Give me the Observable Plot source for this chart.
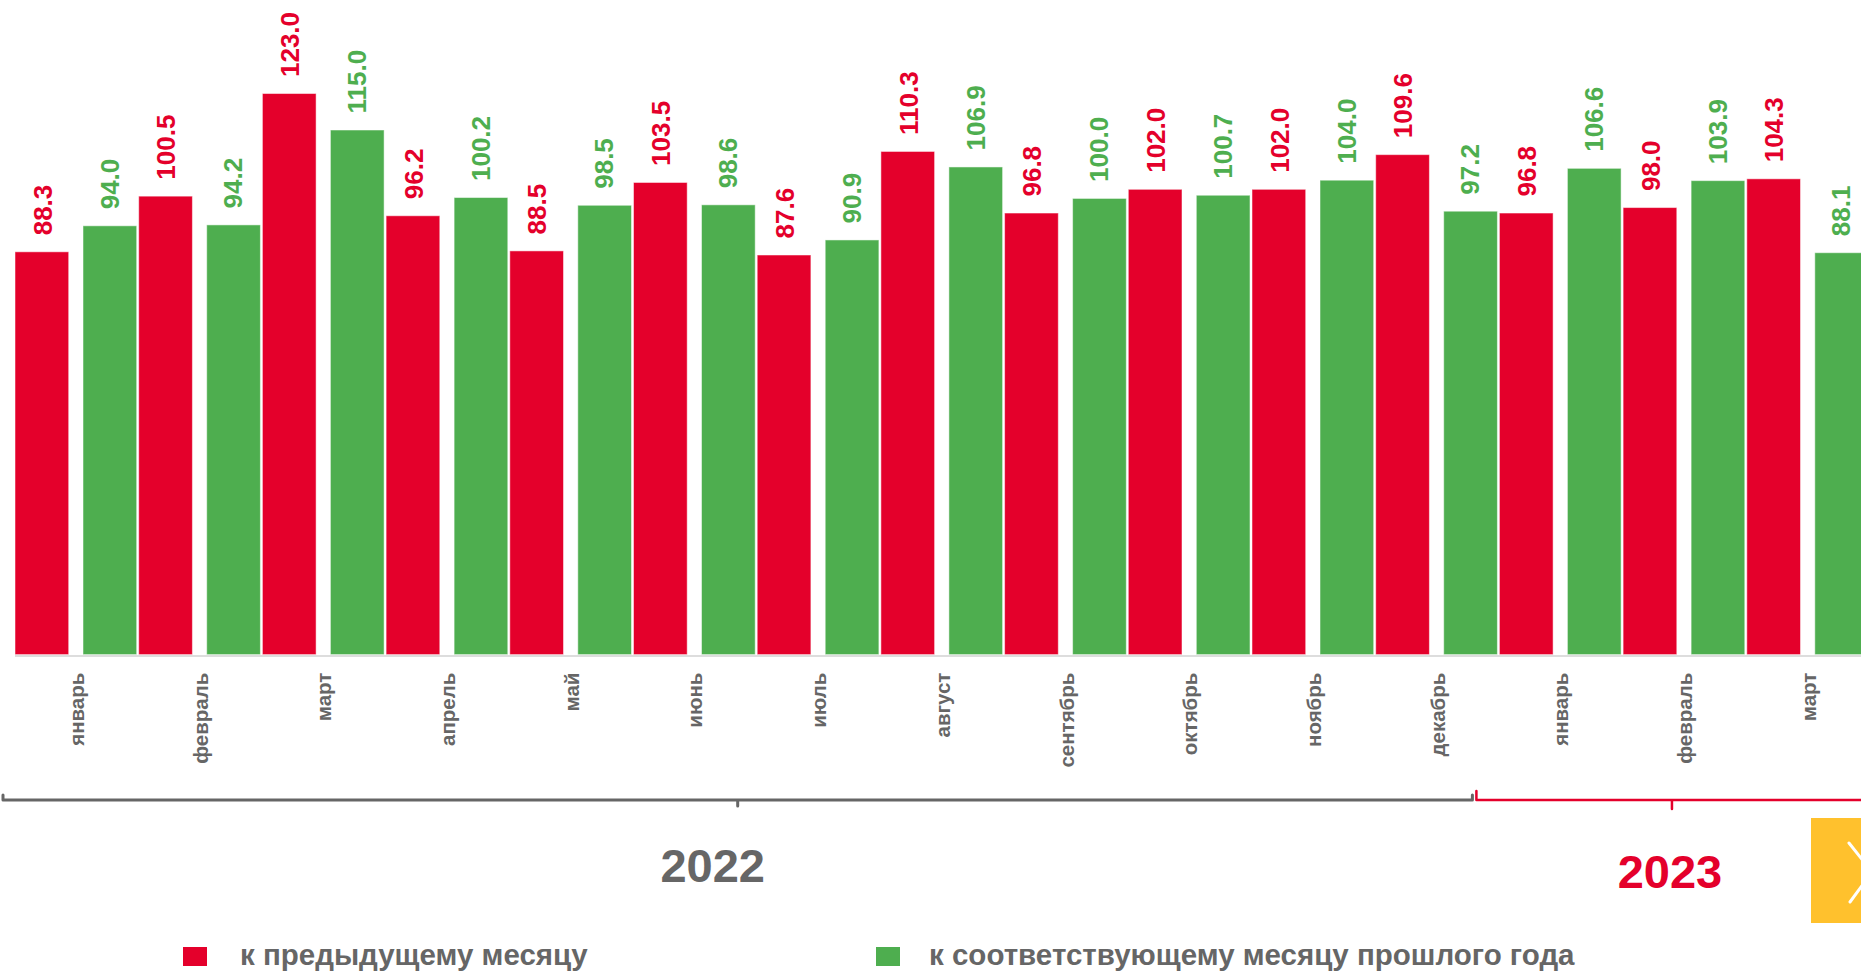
<!DOCTYPE html>
<html><head><meta charset="utf-8">
<script src="https://cdn.jsdelivr.net/npm/d3@7"></script>
<script src="https://cdn.jsdelivr.net/npm/@observablehq/plot@0.6"></script>
<style>
html,body{margin:0;padding:0;background:#fff;overflow:hidden;width:1861px;height:971px;}
body{position:relative;font-family:"Liberation Sans",Arial,sans-serif;}
#chart{position:absolute;left:0;top:0;}
.sw{position:absolute;width:24px;height:19px;top:947px;}
.lt{position:absolute;top:940px;font-weight:bold;font-size:29.5px;line-height:29.5px;color:#666;white-space:nowrap;}
#nav{position:absolute;left:1811px;top:818px;width:60px;height:105px;background:#FFC12D;}
</style>
</head><body>
<div id="chart"></div>
<div class="sw" style="left:183px;background:#E4002B"></div>
<div class="lt" style="left:240px">к предыдущему месяцу</div>
<div class="sw" style="left:876px;background:#4EAE4F"></div>
<div class="lt" style="left:929px">к соответствующему месяцу прошлого года</div>
<div id="nav"><svg width="60" height="105"><path d="M38,25 L61,54 L39,84" fill="none" stroke="#fff" stroke-width="3" stroke-linecap="round"/></svg></div>
<script>
// ---- data ----
const months = ["январь","февраль","март","апрель","май","июнь","июль","август","сентябрь","октябрь","ноябрь","декабрь","январь","февраль","март"];
const monthYear = [2022,2022,2022,2022,2022,2022,2022,2022,2022,2022,2022,2022,2023,2023,2023];
const toPrevMonth = [88.3,100.5,123.0,96.2,88.5,103.5,87.6,110.3,96.8,102.0,102.0,109.6,96.8,98.0,104.3];
const toSameMonthLastYear = [94.0,94.2,115.0,100.2,98.5,98.6,90.9,106.9,100.0,100.7,104.0,97.2,106.6,103.9,88.1];
const years = [2022, 2023];
const seriesNames = ["к предыдущему месяцу","к соответствующему месяцу прошлого года"];

// ---- styles ----
const RED = "#E4002B", GREEN = "#4EAE4F", GRAY = "#666666";
const idx = d3.range(months.length);

const plot = Plot.plot({
  width: 1861, height: 935,
  marginTop: 0, marginLeft: 15, marginRight: 0, marginBottom: 280,
  style: {fontFamily: "'Liberation Sans', Arial, sans-serif", background: "white", overflow: "hidden"},
  x: {type: "band", domain: idx, range: [15, 1870.5], padding: 0, round: false, axis: null},
  y: {domain: [0, 143.5], range: [654.6, 0], axis: null},
  marks: [
    Plot.barY(idx, {x: i => i, y: i => toPrevMonth[i], fill: RED, insetLeft: 0, insetRight: 70, stroke: "white", strokeOpacity: 0.5, strokeWidth: 1}),
    Plot.barY(idx, {x: i => i, y: i => toSameMonthLastYear[i], fill: GREEN, insetLeft: 68, insetRight: 2, stroke: "white", strokeOpacity: 0.5, strokeWidth: 1}),
    Plot.ruleY([0], {stroke: "#dddddd", strokeWidth: 2, dy: 1}),
    Plot.text(idx, {x: i => i, y: i => toPrevMonth[i], text: i => toPrevMonth[i].toFixed(1), rotate: -90, textAnchor: "start", dx: -34, dy: -17, fill: RED, fontSize: 26, fontWeight: "bold"}),
    Plot.text(idx, {x: i => i, y: i => toSameMonthLastYear[i], text: i => toSameMonthLastYear[i].toFixed(1), rotate: -90, textAnchor: "start", dx: 33, dy: -17, fill: GREEN, fontSize: 26, fontWeight: "bold"}),
    Plot.text(idx, {x: i => i, y: () => 0, text: i => months[i], rotate: -90, textAnchor: "end", dy: 17.5, fill: GRAY, fontSize: 20.5, fontWeight: "bold"})
  ]
});
document.getElementById("chart").appendChild(plot);

// ---- year brackets (positions derived from the x scale) ----
const xs = plot.scale("x");
const bw = xs.bandwidth;
const svg = d3.select(plot);
const yearStyle = {2022: {color: GRAY, width: 3, up: 5, down: 6, nudge: -25, base: 882},
                   2023: {color: RED, width: 2.5, up: 9, down: 9, nudge: -2, base: 888}};
years.forEach(yr => {
  const members = idx.filter(i => monthYear[i] === yr);
  const first = members[0], last = members[members.length - 1];
  const x1 = first === 0 ? xs.apply(first) - 12 : xs.apply(first) - 23;
  const x2 = last === months.length - 1 ? xs.apply(last) + bw - 3 : xs.apply(last + 1) - 27;
  const c = (x1 + x2) / 2, ly = 800, s = yearStyle[yr];
  svg.append("path")
    .attr("d", `M${x1},${ly - s.up}L${x1},${ly}L${x2},${ly}L${x2},${ly - s.up}M${c},${ly}L${c},${ly + s.down}`)
    .attr("fill", "none").attr("stroke", s.color).attr("stroke-width", s.width)
    .attr("stroke-linejoin", "round").attr("stroke-linecap", "round");
  svg.append("text")
    .attr("x", c + s.nudge).attr("y", s.base)
    .attr("text-anchor", "middle").attr("fill", s.color)
    .attr("font-size", 47).attr("font-weight", "bold")
    .text(String(yr));
});
</script>
</body></html>
